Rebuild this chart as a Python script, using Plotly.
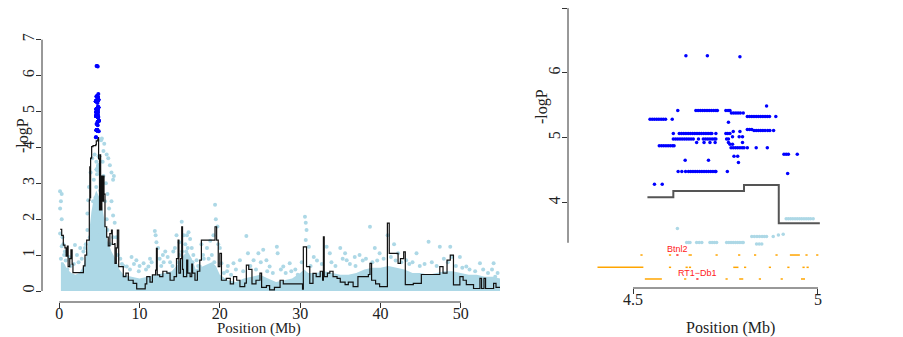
import plotly.graph_objects as go

# ---------------- data ----------------
# step curve of -logP along the chromosome (Mb)
scan_pos = [0.1, 0.3, 0.5, 0.7, 0.85, 1.0, 1.1, 1.3, 1.45, 1.6, 1.7, 2.8, 3.0, 3.2, 3.41, 3.6,
            3.74, 3.8, 3.85, 3.9, 4.03, 4.2, 4.539, 4.609, 4.80, 4.894, 5.005, 5.01, 5.07, 5.15,
            5.3, 5.4, 5.5, 5.57, 5.69, 5.9, 6.1, 6.3, 6.5, 6.6, 6.9, 6.94, 7.1, 7.23, 7.4, 7.77,
            7.97, 8.3, 8.6, 9.2, 9.64, 10.5, 10.7, 10.9, 11.3, 11.6, 12.0, 12.1, 12.2, 12.5, 12.9,
            13.4, 13.8, 14.3, 14.6, 14.8, 14.9, 15.1, 15.25, 15.35, 15.46, 15.87, 16.0, 16.3, 16.5,
            16.6, 16.9, 17.2, 17.5, 17.7, 19.2, 19.4, 19.6, 19.8, 20.0, 20.2, 20.8, 21.3, 21.7,
            22.1, 22.5, 23.1, 23.3, 23.6, 24.0, 24.5, 25.0, 25.2, 25.8, 26.2, 26.8, 27.5, 27.9,
            30.0, 30.3, 30.4, 30.8, 31.2, 31.6, 32.0, 32.5, 32.8, 32.9, 33.0, 33.4, 33.7, 34.1,
            34.6, 35.0, 35.6, 36.0, 36.6, 37.2, 38.5, 38.7, 38.9, 39.4, 39.9, 40.6, 40.87, 41.1,
            41.8, 42.2, 42.5, 42.9, 43.1, 44.1, 45.1, 47.2, 47.4, 47.8, 48.3, 48.7, 49.1, 49.9,
            50.3, 50.7, 51.6, 52.4, 52.6, 52.9, 53.1, 54.1, 54.4, 54.9]
scan_logp = [1.72, 1.55, 1.28, 1.2, 0.97, 1.25, 0.68, 0.9, 1.15, 0.75, 0.51, 0.51, 0.7, 1.0, 1.42, 1.42,
             2.53, 3.46, 2.6, 3.7, 4.02, 4.05, 4.08, 4.18, 4.27, 3.68, 3.68, 2.26, 3.79, 2.26,
             3.2, 2.5, 3.2, 2.7, 1.79, 1.5, 1.26, 1.6, 1.7, 1.3, 1.32, 0.77, 1.2, 1.7, 0.68, 0.68,
             0.40, 0.5, 0.3, 0.21, 0.06, 0.06, 0.2, 0.40, 0.25, 0.45, 0.58, 1.19, 0.45, 0.4, 0.55,
             0.5, 0.3, 0.4, 0.9, 1.42, 0.5, 0.9, 1.79, 0.6, 0.4, 0.86, 0.5, 0.4, 0.75,
             0.5, 0.3, 0.55, 0.86, 1.42, 1.42, 1.79, 1.42, 0.68, 1.05, 0.3, 0.35, 0.2, 0.4,
             0.3, 0.12, 0.22, 0.72, 0.6, 0.2, 0.3, 0.5, 0.1, 0.15, 0.03, 0.1, 0.3, 0.2,
             0.2, 0.05, 1.23, 0.68, 0.21, 0.49, 0.4, 0.55, 0.3, 1.51, 0.4, 0.5, 0.55, 0.4,
             0.35, 0.25, 0.18, 0.25, 0.12, 0.4, 0.46, 0.77, 0.3, 0.2, 0.12, 0.12, 1.89, 1.05,
             1.05, 0.77, 0.9, 1.09, 0.18, 0.21, 0.46, 0.46, 0.68, 0.5, 0.86, 1.0, 0.17, 0.4,
             0.3, 0.18, 0.07, 0.35, 0.07, 0.35, 0.07, 0.21, 0.1, 0.1]

# upper edge of the dense cloud of non-significant SNPs
band_pos = [0.2, 0.5, 1.0, 1.5, 2.0, 2.5, 3.0, 3.5, 3.8, 4.0, 4.3, 4.6, 5.0, 5.3, 5.6, 6.0, 6.5,
            7.0, 7.5, 8.0, 9.0, 10, 11, 12, 13, 14, 15, 15.5, 16, 16.5, 17, 18, 19, 19.5, 20,
            21, 22, 23, 24, 25, 26, 27, 28, 29, 30, 30.5, 31, 32, 33, 34, 35, 36, 37, 38, 39,
            40, 41, 42, 43, 44, 45, 46, 47, 48, 49, 50, 51, 52, 53, 54, 54.9]
band_top = [0.8, 0.8, 0.6, 0.5, 0.45, 0.5, 0.7, 1.1, 1.8, 2.2, 2.6, 2.8, 2.6, 2.4, 2.0, 1.4, 1.1,
            0.9, 0.6, 0.45, 0.4, 0.35, 0.4, 0.45, 0.5, 0.55, 0.8, 1.0, 1.1, 0.9, 0.6, 0.7, 0.8,
            0.7, 0.45, 0.3, 0.25, 0.35, 0.4, 0.45, 0.35, 0.25, 0.3, 0.35, 0.5, 0.6, 0.5, 0.5,
            0.55, 0.5, 0.45, 0.45, 0.5, 0.6, 0.65, 0.65, 0.7, 0.65, 0.6, 0.5, 0.5, 0.45, 0.5,
            0.55, 0.55, 0.5, 0.45, 0.45, 0.4, 0.4, 0.35]

# scattered non-significant SNPs (light blue)
snp_pos = [0.09, 0.3, 0.2, 0.1, 0.3, 0.1, 0.5, 0.3, 0.7, 1.95, 2.6, 3.0, 0.4, 0.6, 1.2, 2.2,
           3.5, 3.6, 3.7, 3.9, 4.1, 4.4, 5.3, 5.6, 5.9, 6.1, 6.3, 6.5, 6.7, 6.8, 5.5, 5.8, 5.1,
           6.0, 5.7, 6.5, 6.2, 6.7, 6.9, 7.1, 4.2, 4.6, 4.7, 4.4, 4.0, 4.85, 5.3, 3.5, 3.3, 5.1,
           5.5, 6.3, 6.7, 7.3, 7.8, 5.2, 5.5, 5.4, 4.3, 4.5, 5.0, 5.9, 6.0, 3.8, 4.7,
           8.4, 9.0, 9.6, 10.5, 11.1, 11.9, 12.0, 12.1, 12.3, 12.9, 13.5, 14.2, 14.6, 14.96,
           15.25, 15.5, 15.7, 15.9, 16.1, 16.3, 16.5, 16.7, 17.1, 17.5, 17.9, 18.4, 18.8, 19.2,
           19.4, 19.5, 19.7, 20.0, 20.2, 20.9, 21.7, 22.5, 23.3, 23.5, 24.2, 24.8, 25.4, 25.8,
           26.2, 27.1, 27.2, 27.9, 28.7, 29.4, 15.0, 15.3, 15.6, 16.0, 16.2, 14.8, 13.0, 12.5,
           11.5, 10.0, 18.0, 19.0, 19.8,
           30.6, 30.7, 30.8, 30.7, 31.1, 31.7, 33.3, 33.7, 35.0, 35.6, 35.8, 36.8, 37.4, 38.7,
           39.3, 39.9, 40.9, 41.7, 42.2, 43.2, 44.5, 46.0, 47.4, 48.7, 48.9, 49.9, 50.7, 52.4,
           54.1, 54.3,
           0.2, 0.5, 0.8, 1.0, 1.4, 1.8, 2.4, 2.8, 3.2, 7.6, 8.0, 8.8, 9.3, 9.9,
           10.8, 11.3, 12.7, 13.2, 13.8, 14.1, 14.4, 15.8, 16.6, 17.3, 17.7, 18.2, 18.6, 19.3,
           20.5, 21.0, 21.4, 22.0, 22.9, 23.8, 24.5, 25.1, 25.9, 26.6, 27.6, 28.2, 28.9, 29.7,
           30.2, 31.3, 32.1, 32.7, 33.9, 34.4, 35.3, 36.2, 36.9, 37.8, 38.2, 39.0, 39.6,
           40.4, 41.3, 41.9, 42.6, 43.6, 44.0, 44.9, 45.5, 46.4, 47.0, 47.9, 48.4, 49.4, 50.2,
           51.1, 51.8, 52.8, 53.4, 53.9, 54.6,
           4.914, 4.920, 4.926, 4.932, 4.938, 4.944, 4.950, 4.956, 4.962, 4.968, 4.974, 4.980,
           4.987, 4.620, 4.645, 4.650, 4.654, 4.672, 4.679, 4.686, 4.708, 4.714, 4.720, 4.726,
           4.753, 4.759, 4.765, 4.771, 4.777, 4.783, 4.789, 4.795, 4.798, 4.821, 4.828, 4.835,
           4.842, 4.849, 4.855, 4.861, 4.879, 4.893, 4.906, 4.834, 4.841, 4.848]
snp_logp = [2.78, 2.7, 2.5, 2.3, 2.0, 1.6, 1.3, 1.25, 1.1, 1.28, 1.2, 1.1, 1.5, 1.0, 0.95, 1.0,
            2.16, 2.53, 2.9, 3.3, 3.7, 3.8, 4.25, 4.1, 3.8, 3.7, 3.5, 3.3, 3.1, 3.2, 3.2, 3.0, 2.8,
            2.7, 2.5, 2.5, 2.3, 2.1, 1.9, 1.5, 2.5, 2.9, 3.25, 2.1, 1.8, 2.2, 1.95, 1.7, 1.3, 1.5,
            1.3, 1.3, 1.5, 1.0, 0.75, 4.2, 3.9, 3.6, 3.1, 2.6, 2.4, 2.0, 1.7, 1.5, 1.6,
            0.68, 0.95, 0.86, 0.77, 0.68, 1.67, 1.55, 1.36, 1.2, 1.0, 0.95, 1.1, 1.55, 1.36,
            1.93, 1.55, 1.3, 1.55, 1.64, 1.45, 1.2, 1.0, 0.86, 0.68, 1.0, 1.2, 1.4, 1.55,
            2.4, 2.0, 1.8, 1.2, 0.77, 0.55, 0.77, 0.86, 1.53, 1.05, 0.86, 1.05, 1.15, 0.86,
            0.68, 1.23, 1.05, 0.68, 0.77, 0.6, 1.0, 1.1, 0.9, 1.2, 0.9, 0.8, 0.8, 0.9,
            0.8, 0.7, 0.9, 1.0, 1.3,
            2.07, 1.9, 1.7, 1.42, 1.23, 0.95, 1.23, 1.05, 1.2, 1.05, 0.86, 0.95, 1.0, 1.79,
            1.2, 1.05, 1.55, 1.3, 1.05, 0.86, 1.05, 1.37, 1.23, 1.23, 0.95, 0.95, 0.68, 0.77,
            0.77, 0.4,
            0.9, 0.7, 0.85, 0.6, 0.7, 0.75, 0.8, 0.9, 1.2, 0.9, 0.7, 0.6, 0.75, 0.55,
            0.6, 0.9, 0.7, 1.1, 0.8, 0.7, 1.2, 1.1, 0.8, 0.7, 1.3, 0.6, 0.9, 0.8,
            0.5, 0.7, 0.45, 0.6, 0.55, 0.7, 0.6, 0.8, 0.55, 0.5, 0.6, 0.5, 0.55, 0.45,
            0.8, 0.7, 0.85, 0.75, 0.8, 0.7, 0.9, 0.75, 0.7, 0.85, 0.9, 0.8, 0.85,
            0.9, 0.95, 0.85, 0.8, 0.75, 0.8, 0.7, 0.75, 0.8, 0.7, 0.9, 0.8, 0.7, 0.65,
            0.6, 0.55, 0.6, 0.5, 0.6, 0.5,
            3.75, 3.75, 3.75, 3.75, 3.75, 3.75, 3.75, 3.75, 3.75, 3.75, 3.75, 3.75,
            3.75, 3.60, 3.383, 3.383, 3.383, 3.383, 3.383, 3.383, 3.383, 3.383, 3.383, 3.383,
            3.383, 3.383, 3.383, 3.383, 3.383, 3.383, 3.383, 3.383, 3.383, 3.475, 3.475, 3.475,
            3.475, 3.475, 3.475, 3.475, 3.475, 3.50, 3.51, 3.36, 3.36, 3.36]

# significant SNPs (blue)
sig_pos = [4.643, 4.701, 4.789, 4.861,
           4.621, 4.670, 4.676, 4.682, 4.688, 4.694, 4.700, 4.706, 4.712, 4.718, 4.724, 4.728,
           4.751, 4.757, 4.762,
           4.766, 4.772, 4.778, 4.784, 4.790, 4.798,
           4.809, 4.815, 4.821, 4.827, 4.833, 4.839, 4.845, 4.851, 4.857, 4.863, 4.869, 4.886,
           4.546, 4.552, 4.558, 4.564, 4.570, 4.576, 4.582, 4.588, 4.606,
           4.758,
           4.809, 4.815, 4.821,
           4.827, 4.833, 4.839, 4.845, 4.851, 4.857, 4.864, 4.870, 4.880,
           4.771, 4.789,
           4.609, 4.625, 4.631, 4.637, 4.643, 4.649, 4.655, 4.661, 4.667, 4.673, 4.679, 4.685,
           4.691, 4.697, 4.703, 4.709, 4.713, 4.724, 4.751, 4.756, 4.762,
           4.769, 4.787, 4.796,
           4.609, 4.615, 4.621, 4.627, 4.633, 4.639, 4.645, 4.651, 4.657, 4.663, 4.677, 4.690,
           4.696, 4.702, 4.708, 4.714, 4.720, 4.724, 4.753, 4.758,
           4.672, 4.692, 4.708, 4.722, 4.758, 4.796,
           4.762, 4.769,
           4.571, 4.577, 4.583, 4.589, 4.595, 4.601, 4.607, 4.611,
           4.765, 4.771, 4.777, 4.783, 4.789, 4.795, 4.800, 4.809, 4.833, 4.863,
           4.908, 4.914, 4.920, 4.944,
           4.773, 4.783,
           4.641, 4.704,
           4.785,
           4.622, 4.632, 4.642, 4.650, 4.656, 4.662, 4.668, 4.674, 4.680, 4.686, 4.692, 4.698,
           4.704, 4.710, 4.716, 4.722, 4.724, 4.755,
           4.918,
           4.558, 4.579]
sig_logp = [6.267, 6.267, 6.25, 5.49,
            5.42, 5.42, 5.42, 5.42, 5.42, 5.42, 5.42, 5.42, 5.42, 5.42, 5.42, 5.42,
            5.42, 5.42, 5.42,
            5.383, 5.383, 5.383, 5.383, 5.383, 5.383,
            5.33, 5.33, 5.33, 5.33, 5.33, 5.33, 5.33, 5.33, 5.33, 5.33, 5.33, 5.33,
            5.285, 5.285, 5.285, 5.285, 5.285, 5.285, 5.285, 5.285, 5.285,
            5.24,
            5.127, 5.127, 5.127,
            5.112, 5.112, 5.112, 5.112, 5.112, 5.112, 5.112, 5.112, 5.112,
            5.097, 5.097,
            5.066, 5.066, 5.066, 5.066, 5.066, 5.066, 5.066, 5.066, 5.066, 5.066, 5.066, 5.066,
            5.066, 5.066, 5.066, 5.066, 5.066, 5.066, 5.066, 5.066, 5.066,
            5.015, 5.015, 5.015,
            4.979, 4.979, 4.979, 4.979, 4.979, 4.979, 4.979, 4.979, 4.979, 4.979, 4.979, 4.979,
            4.979, 4.979, 4.979, 4.979, 4.979, 4.979, 4.979, 4.979,
            4.928, 4.928, 4.928, 4.928, 4.928, 4.928,
            4.90, 4.90,
            4.877, 4.877, 4.877, 4.877, 4.877, 4.877, 4.877, 4.877,
            4.847, 4.847, 4.847, 4.847, 4.847, 4.847, 4.847, 4.847, 4.847, 4.847,
            4.744, 4.744, 4.744, 4.744,
            4.713, 4.713,
            4.652, 4.652,
            4.617,
            4.478, 4.478, 4.478, 4.478, 4.478, 4.478, 4.478, 4.478, 4.478, 4.478, 4.478, 4.478,
            4.478, 4.478, 4.478, 4.478, 4.478, 4.478,
            4.448,
            4.284, 4.284]

# gene track: start, end (Mb) and track row
gene_start = [4.520, 4.597, 4.617, 4.650, 4.723, 4.784, 4.827, 4.885, 4.924, 4.966, 4.995,
              4.404, 4.597, 4.642, 4.651, 4.771, 4.800, 4.867, 4.917, 4.958, 4.969,
              4.532, 4.638, 4.671, 4.750, 4.787, 4.840, 4.899, 4.954]
gene_end = [4.526, 4.603, 4.623, 4.659, 4.729, 4.790, 4.833, 4.891, 4.951, 4.972, 5.001,
            4.528, 4.603, 4.648, 4.657, 4.785, 4.806, 4.873, 4.923, 4.964, 4.975,
            4.578, 4.644, 4.677, 4.756, 4.798, 4.846, 4.905, 4.965]
gene_row = [1, 1, 1, 1, 1, 1, 1, 1, 1, 1, 1,
            2, 2, 2, 2, 2, 2, 2, 2, 2, 2,
            3, 3, 3, 3, 3, 3, 3, 3]
gene_name = ["", "", "Btnl2", "", "", "", "", "", "", "", "",
             "", "", "", "", "", "", "", "", "", "",
             "", "", "RT1\u2212Db1", "", "", "", "", ""]

# ---------------- drawing ----------------
SERIF = "Liberation Serif"
LIGHT = "#ADD8E6"
row_y = {1: 3.19, 2: 3.0, 3: 2.82}
W, H = 903, 337

fig = go.Figure()

# left panel
fig.add_trace(go.Scatter(x=band_pos, y=band_top, mode="lines", fill="tozeroy",
                         fillcolor=LIGHT, line=dict(width=0, color=LIGHT),
                         xaxis="x", yaxis="y", hoverinfo="skip"))
fig.add_trace(go.Scatter(x=snp_pos, y=snp_logp, mode="markers",
                         marker=dict(color=LIGHT, size=4), xaxis="x", yaxis="y"))
fig.add_trace(go.Scatter(x=scan_pos, y=scan_logp, mode="lines", line_shape="hv",
                         line=dict(color="#111111", width=1.2), xaxis="x", yaxis="y"))
fig.add_trace(go.Scatter(x=sig_pos, y=sig_logp, mode="markers",
                         marker=dict(color="#0000FF", size=4), xaxis="x", yaxis="y"))

# right panel (zoom on 4.5 - 5 Mb)
zx = [p for p, v in zip(snp_pos, snp_logp) if 4.5 <= p <= 5.0 and v >= 3.3]
zy = [v for p, v in zip(snp_pos, snp_logp) if 4.5 <= p <= 5.0 and v >= 3.3]
fig.add_trace(go.Scatter(x=zx, y=zy, mode="markers",
                         marker=dict(color=LIGHT, size=3.5), xaxis="x2", yaxis="y2"))
lx = [p for p in scan_pos if 4.53 <= p <= 5.006]
ly = [v for p, v in zip(scan_pos, scan_logp) if 4.53 <= p <= 5.006]
fig.add_trace(go.Scatter(x=lx, y=ly, mode="lines", line_shape="hv",
                         line=dict(color="#555555", width=2), xaxis="x2", yaxis="y2"))
fig.add_trace(go.Scatter(x=sig_pos, y=sig_logp, mode="markers",
                         marker=dict(color="#0000FF", size=3.5), xaxis="x2", yaxis="y2"))

gx, gy, rx, ry = [], [], [], []
for s, e, r, n in zip(gene_start, gene_end, gene_row, gene_name):
    if n:
        rx += [s, e, None]
        ry += [row_y[r], row_y[r], None]
        fig.add_annotation(x=(s + e) / 2, y=row_y[r] + 0.09, xref="x2", yref="y2",
                           text=n, showarrow=False, xanchor="center", yanchor="middle",
                           font=dict(family="Liberation Sans", size=9, color="#FF2020"))
    else:
        gx += [s, e, None]
        gy += [row_y[r], row_y[r], None]
fig.add_trace(go.Scatter(x=gx, y=gy, mode="lines", line=dict(color="#FFA500", width=1.5),
                         xaxis="x2", yaxis="y2"))
fig.add_trace(go.Scatter(x=rx, y=ry, mode="lines", line=dict(color="#FF2020", width=1.5),
                         xaxis="x2", yaxis="y2"))

ax = dict(showgrid=False, zeroline=False, showline=False, ticks="outside", ticklen=5,
          automargin=False, tickcolor="#333333", tickwidth=1,
          tickfont=dict(family=SERIF, size=16, color="#222222"))
xa = dict(ax, ticklabelstandoff=-8)
ya = dict(ax, ticklabelstandoff=-4, tickangle=-90)

# the page body adds an 8 px offset, so positions below are page pixels minus 8
fig.update_layout(
    width=W, height=H, margin=dict(l=0, r=0, t=0, b=0),
    paper_bgcolor="white", plot_bgcolor="white", showlegend=False,
    font=dict(family=SERIF, size=16, color="#222222"),
    xaxis=dict(xa, domain=[34 / W, 497 / W], range=[-2.155, 55.52],
               tickvals=[0, 10, 20, 30, 40, 50], anchor="y"),
    yaxis=dict(ya, domain=[1 - 294 / H, 1 - 22 / H], range=[-0.306, 7.27],
               tickvals=[0, 1, 2, 3, 4, 5, 6, 7], anchor="x"),
    xaxis2=dict(xa, domain=[560 / W, 832 / W], range=[4.3243, 5.0595],
                tickvals=[4.5, 5], ticktext=["4.5", "5"], anchor="y2"),
    yaxis2=dict(ya, domain=[1 - 280 / H, 1], range=[2.681, 7.003],
                tickvals=[4, 5, 6, 7], anchor="x2"),
)

axis_line = dict(color="#333333", width=1)
fig.add_shape(type="line", xref="x", yref="y domain", x0=0, x1=50, y0=0, y1=0, line=axis_line)
fig.add_shape(type="line", xref="x domain", yref="y", x0=0, x1=0, y0=0, y1=7, line=axis_line)
fig.add_shape(type="line", xref="x2", yref="y2 domain", x0=4.5, x1=5, y0=0, y1=0, line=axis_line)
fig.add_shape(type="line", xref="x2 domain", yref="y2", x0=0, x1=0, y0=3.379, y1=7, line=axis_line)

title_font = dict(family=SERIF, size=16, color="#222222")
for tx, ty, txt, ang, fs in [(251, 320, "Position (Mb)", 0, 15), (15, 128, "-logP", -90, 16),
                             (722, 320, "Position (Mb)", 0, 16), (534, 99, "-logP", -90, 16)]:
    fig.add_annotation(x=tx / W, y=1 - ty / H, xref="paper", yref="paper", text=txt,
                       textangle=ang, showarrow=False, xanchor="center", yanchor="middle",
                       font=dict(title_font, size=fs))

fig.write_html("out.html")
